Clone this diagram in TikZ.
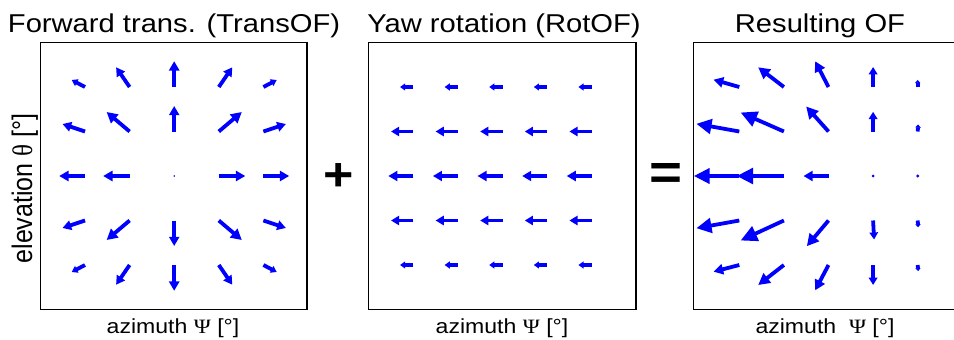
\documentclass[tikz,border=0pt]{standalone}
\usepackage{graphicx}
\usepackage{fontspec}
\setmainfont{Liberation Sans}
\newfontfamily\symfont{Liberation Serif}
\usetikzlibrary{arrows.meta}
\definecolor{qblue}{RGB}{0,0,255}
\newcommand\wx[1]{\scalebox{1.13}[1]{#1}}
\newcommand\qarr[4]{%
  \pgfmathsetmacro\qlen{veclen(#3,#4)}%
  \pgfmathsetmacro\qhl{0.33*\qlen+0.8}%
  \pgfmathsetmacro\qhw{0.25*\qlen+3.6}%
  \draw[qline,-{Triangle[length=\qhl pt,width=\qhw pt]}] (#1,#2) -- ++(#3,#4);}
\tikzset{
  qline/.style={draw=qblue, fill=qblue, line width=3.8pt},
  qdot/.style={fill=qblue},
  frame/.style={draw=black, line width=1.4pt},
  ttl/.style={inner sep=0pt, anchor=base, font=\fontsize{25.8}{30}\selectfont},
  axl/.style={inner sep=0pt, anchor=base, font=\fontsize{20.4}{24}\selectfont},
  opr/.style={inner sep=0pt, font=\fontsize{46}{50}\selectfont\bfseries}
}
\begin{document}
\begin{tikzpicture}[x=1pt,y=-1pt]
\useasboundingbox (0,0) rectangle (954,340);
% frames
\draw[frame] (40.7,42.3) rectangle (307,309.3);
\draw[frame] (368.3,42.3) rectangle (636,309.3);
\draw[frame] (954,42.3) -- (693.3,42.3) -- (693.3,309.3) -- (954,309.3);
% titles
\node[ttl] (t1) at (174,32.3) {\wx{Forward trans. (TransOF)}};
\node[ttl] (t2) at (504,32.3) {\wx{Yaw rotation (RotOF)}};
\node[ttl] (t3) at (820,32.3) {\wx{Resulting OF}};
% axis labels
\node[axl] (x1) at (173,333.3) {\wx{azimuth {\symfont Ψ} [°]}};
\node[axl] (x2) at (502,333.3) {\wx{azimuth {\symfont Ψ} [°]}};
\node[axl] (x3) at (825,333.3) {\wx{azimuth \ {\symfont Ψ} [°]}};
\node[inner sep=0pt, anchor=base, rotate=90, font=\fontsize{25}{28}\selectfont] (y1) at (32,188.5) {\scalebox{1}[1.13]{elevation {\symfont θ} [°]}};
% operators
\node[opr] (plus) at (338.5,177) {\wx{+}};
\node[opr, font=\fontsize{50}{54}\selectfont\bfseries] (eq) at (666,176) {\wx{=}};
% panel 1: translation flow
\foreach \x/\y/\dx/\dy in {
  85/87/-13.3/-7, 129.6/87/-13.5/-19.7, 174.2/87/0/-25.8, 218.8/87/13.5/-19.7, 263.4/87/13.3/-7,
  85/131.5/-22.5/-7.5, 129.6/131.5/-23/-19.5, 174.2/131.5/0/-25.5, 218.8/131.5/23/-19.5, 263.4/131.5/22.5/-7.5,
  85/176/-25.8/0, 129.6/176/-26.5/0, 218.8/176/26.5/0, 263.4/176/25.8/0,
  85/220.5/-22.5/7.5, 129.6/220.5/-23/19.5, 174.2/220.5/0/25.5, 218.8/220.5/23/19.5, 263.4/220.5/22.5/7.5,
  85/265/-13.3/7, 129.6/265/-13.5/19.7, 174.2/265/0/25.8, 218.8/265/13.5/19.7, 263.4/265/13.3/7}
  {\qarr{\x}{\y}{\dx}{\dy}}
\fill[qdot] (174.2,176) circle (0.9);
% panel 2: rotation flow
\foreach \x in {413.3,457.9,502.5,547.1,591.7}{
  \foreach \y/\dx in {87/-13.3, 131.5/-22.3, 176/-25, 220.5/-22.3, 265/-13.3}
    {\qarr{\x}{\y}{\dx}{0}}}
% panel 3: resulting flow
\foreach \x/\y/\dx/\dy in {
  739.3/87/-25.7/-7.3, 783.9/87/-25.7/-19.7, 828.5/87/-13.3/-25.7, 873.1/87/0/-20, 917.7/87/0/-7,
  739.3/131.5/-43/-7.7, 783.9/131.5/-43.3/-19, 828.5/131.5/-22.3/-25, 873.1/131.5/0/-19.7, 917.7/131.5/0.5/-7,
  739.3/176/-45.5/0, 783.9/176/-47.3/0, 828.5/176/-25/0,
  739.3/220.5/-43/7.7, 783.9/220.5/-43.3/20, 828.5/220.5/-21.7/25.7, 873.1/220.5/1/19, 917.7/220.5/0.5/6.7,
  739.3/265/-25.7/6.7, 783.9/265/-25.7/20, 828.5/265/-13.3/25.3, 873.1/265/0/20, 917.7/265/0.5/6}
  {\qarr{\x}{\y}{\dx}{\dy}}
\fill[qdot] (873.1,176) circle (1.6);
\fill[qdot] (917.7,176) circle (1.6);
\end{tikzpicture}
\end{document}
